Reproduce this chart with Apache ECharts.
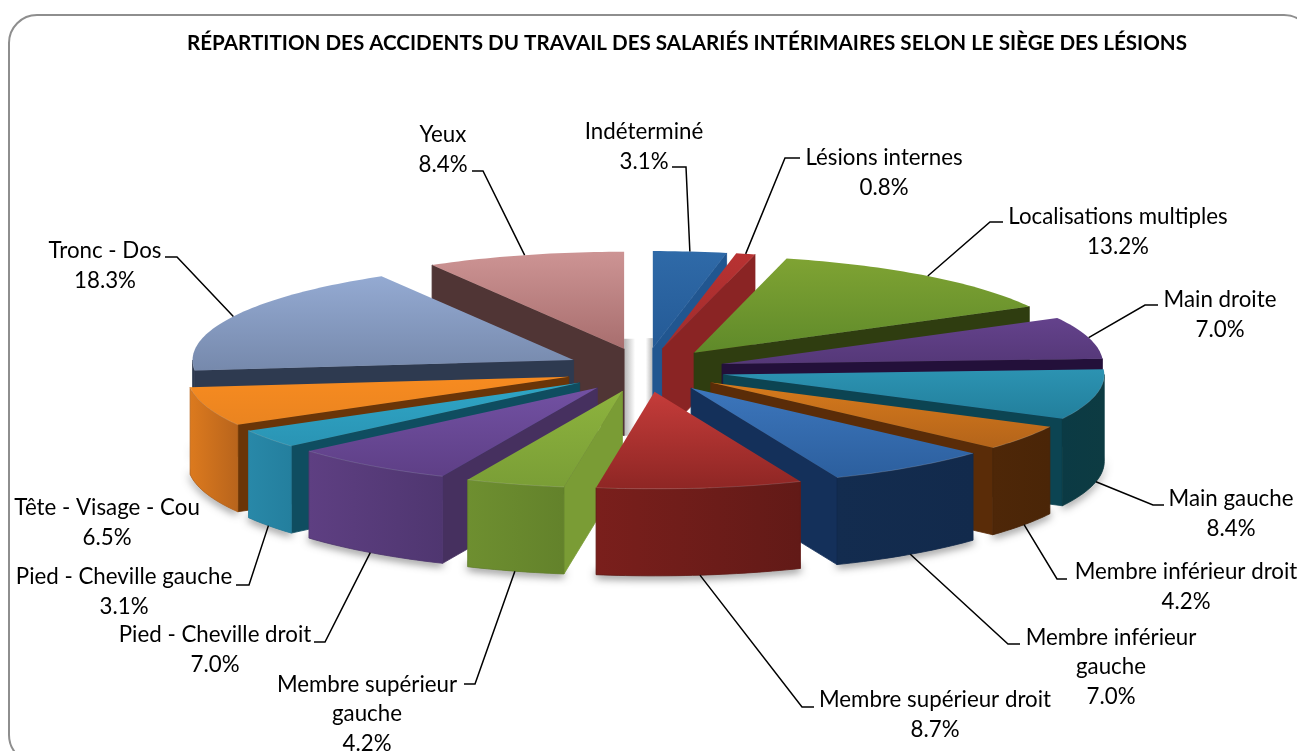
<!DOCTYPE html>
<html><head><meta charset="utf-8">
<script src="https://cdn.jsdelivr.net/npm/echarts@6/dist/echarts.min.js"></script>
<style>html,body{margin:0;padding:0;background:#fff;overflow:hidden}#c{width:1297px;height:751px}</style>
</head><body><div id="c"></div>
<script>
const titleText = 'RÉPARTITION DES ACCIDENTS DU TRAVAIL DES SALARIÉS INTÉRIMAIRES SELON LE SIÈGE DES LÉSIONS';
const categories = ['Indéterminé','Lésions internes','Localisations multiples','Main droite','Main gauche','Membre inférieur droit','Membre inférieur\ngauche','Membre supérieur droit','Membre supérieur\ngauche','Pied - Cheville droit','Pied - Cheville gauche','Tête - Visage - Cou','Tronc - Dos','Yeux'];
const values = [3.1,0.8,13.2,7.0,8.4,4.2,7.0,8.7,4.2,7.0,3.1,6.5,18.3,8.4];

// Surface colours per slice: top gradient (light, dark), outer wall (left, right), cut face
const topLight = ['#2f6aa8','#b83232','#7fa333','#64428c','#2c93b2','#d67a1c','#3c76bc','#c53c3a','#8db33e','#7251a3','#2fa6c6','#f78b20','#94aad2','#cd9494'];
const topDark  = ['#245a96','#a02c2c','#5f8a2a','#553878','#227f9c','#b4641a','#2c5f9e','#8e2624','#7a9e36','#5e3f86','#2a94b4','#ea8420','#7689ac','#a86e6e'];
const wallA    = ['#1c4a7c','#861f1f','#2f3d10','#23103a','#0b3a44','#4e2708','#132c4f','#7a1f1c','#6e8f30','#5e3f82','#2888a8','#dc7a1e','#2e3a50','#503535'];
const wallB    = ['#1c4a7c','#861f1f','#2f3d10','#23103a','#0d3b42','#4a2507','#122a4c','#621a17','#63822b','#4f3670','#247f9e','#b8641c','#2e3a50','#503535'];
const faceCol  = ['#215690','#8a2424','#2f3d10','#23103a','#0c4452','#5a2c08','#14305a','#7a1f1c','#7a9c35','#46305f','#0f4d60','#6a3508','#2e3a50','#503535'];

// Pie projection
const centre = [645, 370], radius = [381, 97], explode = [80, 22], depth = 87;

// Label block centres and leader elbows (elbow, end); no leader where null
const labelCentres = [[644,147],[884,173],[1118,232],[1220,315],[1231,514],[1186,587],[1111,667],[935,715],[367,714],[215,650],[124,592],[107,523],[105,266],[443,150]];
const leaderEnds = [[[686,167],[672,167]],[[785,158],[800,158]],[[990,222],[1003,222]],[[1145,305],[1158,305]],[[1153,505],[1164,505]],[[1057,579],[1067,579]],[[1008,644],[1020,644]],[[802,707],[814,707]],[[475,684],[464,684]],[[325,642],[314,642]],[[249,585],[236,585]],null,[[177,257],[165,257]],[[483,171],[472,171]]];

const FONT = 'Lato, "Open Sans", sans-serif';
const total = values.reduce((a,b)=>a+b,0);
const TAU = Math.PI*2;
const slices = []; let cum = 0;
values.forEach((v,i)=>{ const a0 = cum/total*TAU; cum += v; const a1 = cum/total*TAU; const mid=(a0+a1)/2;
  slices.push({i,a0,a1,mid,ax:centre[0]+explode[0]*Math.sin(mid),ay:centre[1]-explode[1]*Math.cos(mid)}); });
const P = (s,a,z)=>[s.ax+radius[0]*Math.sin(a), s.ay-radius[1]*Math.cos(a)+(z||0)];
const arc = (s,a,b,z)=>{ const n=Math.max(2,Math.ceil(Math.abs(b-a)/0.02)); const o=[]; for(let k=0;k<=n;k++) o.push(P(s,a+(b-a)*k/n,z)); return o; };
const drawOrder = slices.slice().sort((p,q)=>(-Math.cos(p.mid))-(-Math.cos(q.mid))).map(s=>s.i);
const lin = (x2,y2,c1,c2)=>({type:'linear',x:0,y:0,x2,y2,colorStops:[{offset:0,color:c1},{offset:1,color:c2}]});
const poly = (pts,fill,edge)=>({type:'polygon',shape:{points:pts},style:{fill,stroke:edge||fill,lineWidth:edge?0.8:0}});

function renderSlice(params){
  const s = slices[drawOrder[params.dataIndex]], i=s.i, ch=[];
  if (Math.sin(s.a0) < -1e-6) ch.push(poly([[s.ax,s.ay],P(s,s.a0),P(s,s.a0,depth),[s.ax,s.ay+depth]],faceCol[i],faceCol[i]));
  if (Math.sin(s.a1) > 1e-6) ch.push(poly([[s.ax,s.ay],P(s,s.a1),P(s,s.a1,depth),[s.ax,s.ay+depth]],faceCol[i],faceCol[i]));
  const lo=Math.max(s.a0,Math.PI/2), hi=Math.min(s.a1,Math.PI*1.5);
  if (hi>lo){ const top=arc(s,lo,hi,0), bot=arc(s,hi,lo,depth);
    ch.push(poly(top.concat(bot),lin(1,0,wallA[i],wallB[i]),wallB[i])); }
  const topPts=[[s.ax,s.ay]].concat(arc(s,s.a0,s.a1,0));
  ch.push(poly(topPts,lin(0,1,topLight[i],topDark[i])));
  if (hi>lo) ch.push({type:'polyline',shape:{points:arc(s,lo,hi,0)},style:{fill:null,stroke:'rgba(255,255,255,0.14)',lineWidth:1}});
  return {type:'group',children:ch};
}
function renderShadow(params){
  const s=slices[params.dataIndex], ch=[];
  const lo=Math.max(s.a0,Math.PI/2), hi=Math.min(s.a1,Math.PI*1.5);
  if(hi>lo){ ch.push({type:'polygon',shape:{points:arc(s,lo,hi,depth-6).concat(arc(s,hi,lo,depth))},style:{fill:'#888',shadowBlur:9,shadowColor:'rgba(0,0,0,0.55)',shadowOffsetY:3}}); }
  if(Math.abs(s.a1-TAU)<1e-6) ch.push({type:'rect',shape:{x:s.ax,y:s.ay-10,width:11,height:depth+10},style:{fill:lin(1,0,'#b4b4b4','#ffffff')}});
  if(s.a0===0) ch.push({type:'rect',shape:{x:s.ax-7,y:s.ay-10,width:7,height:depth+10},style:{fill:lin(1,0,'#ffffff','#b4b4b4')}});
  return {type:'group',children:ch};
}
function renderLabel(params){
  const s=slices[params.dataIndex], i=s.i, ch=[], c=labelCentres[i], L=leaderEnds[i];
  if(L){ const front=Math.cos(s.mid)<0; const st=P(s,s.mid,front?depth:0);
    ch.push({type:'polyline',shape:{points:[st,L[0],L[1]]},style:{fill:null,stroke:'#000',lineWidth:1.5}}); }
  ch.push({type:'text',x:c[0],y:c[1],style:{text:categories[i]+'\n'+values[i].toFixed(1)+'%',font:'22.3px '+FONT,fill:'#000',align:'center',verticalAlign:'middle',lineHeight:29.5}});
  return {type:'group',children:ch};
}
const chart = echarts.init(document.getElementById('c'),null,{renderer:'canvas',width:1297,height:751});
chart.setOption({
  animation:false, backgroundColor:'#fff',
  title:{text:titleText,left:682,top:28,textAlign:'center',textStyle:{fontFamily:FONT,fontWeight:'bold',fontSize:20.6,color:'#000'}},
  graphic:[{type:'rect',z:-1,shape:{x:9,y:15,width:1303,height:748,r:28},style:{fill:'#fff',stroke:'#8e8e8e',lineWidth:2}}],
  tooltip:{show:false},
  series:[
    {type:'custom',coordinateSystem:'none',silent:true,z:1,data:values.map((v,i)=>[i,v]),renderItem:renderShadow},
    {type:'custom',coordinateSystem:'none',silent:true,z:2,data:drawOrder.map(i=>[i,values[i]]),renderItem:renderSlice},
    {type:'custom',coordinateSystem:'none',silent:true,z:3,data:values.map((v,i)=>[i,v]),renderItem:renderLabel}
  ]
});
</script></body></html>
